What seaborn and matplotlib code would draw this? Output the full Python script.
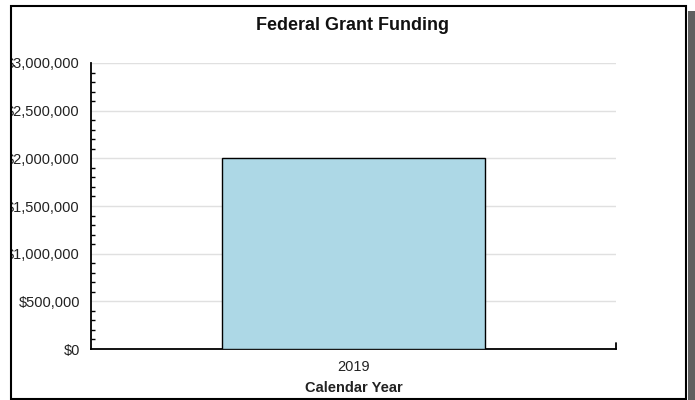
import matplotlib
matplotlib.use("Agg")
import matplotlib.pyplot as plt
import matplotlib.ticker as mticker
from matplotlib.patches import Rectangle
import seaborn as sns
import pandas as pd

years = ["2019"]
funding = [2000000]
y_ticks = [0, 500000, 1000000, 1500000, 2000000, 2500000, 3000000]

sns.set_style("white")
plt.rcParams['font.family'] = ['Liberation Sans', 'DejaVu Sans']

W, H = 695, 400
fig = plt.figure(figsize=(W / 100, H / 100), dpi=100)
ax = fig.add_axes([91 / W, (H - 349) / H, (616 - 91) / W, (349 - 63) / H])

df = pd.DataFrame({"year": years, "funding": funding})
sns.barplot(data=df, x="year", y="funding", ax=ax, width=0.5,
            color="#ADD8E6", saturation=1, edgecolor="black", linewidth=1.0,
            zorder=3)

ax.set_ylim(0, 3000000)
ax.set_xlim(-0.5, 0.5)
ax.set_yticks(y_ticks)
ax.yaxis.set_minor_locator(mticker.MultipleLocator(100000))
ax.yaxis.set_major_formatter(mticker.FuncFormatter(lambda v, p: "${:,.0f}".format(v)))
ax.grid(axis="y", color="#e0e0e0", linewidth=1, zorder=0)
ax.set_axisbelow(True)

for s in ["top", "right"]:
    ax.spines[s].set_visible(False)
for s in ["left", "bottom"]:
    ax.spines[s].set_color("black")
    ax.spines[s].set_linewidth(1.3)

ax.tick_params(axis="y", which="major", direction="in", length=5, width=1,
               color="black", labelsize=10.5, labelcolor="#222222", pad=8)
ax.tick_params(axis="y", which="minor", direction="in", length=3, width=1,
               color="black", left=True)
ax.tick_params(axis="x", length=0, labelsize=10.5, labelcolor="#222222", pad=8)

ax.plot([1, 1], [0, 0.022], transform=ax.transAxes, color="black",
        linewidth=1.3, clip_on=False, zorder=5)

ax.set_ylabel("")
ax.set_xlabel("Calendar Year", fontsize=10.5, fontweight="bold",
              color="#222222", labelpad=5)
fig.text(352 / W, 1 - 25 / H, "Federal Grant Funding", ha="center", va="center",
         fontsize=13, fontweight="bold", color="#111111")

# clip region left of border, frame and shadow
fig.patches.append(Rectangle((0, 0), 11 / W, 1, transform=fig.transFigure,
                             facecolor="white", edgecolor="none", zorder=10))
fig.patches.append(Rectangle((688 / W, 0), 7 / W, (H - 11) / H,
                             transform=fig.transFigure, facecolor="#606060",
                             edgecolor="none", zorder=10))
fig.patches.append(Rectangle((11 / W, 1 / H), (686 - 11) / W, (399 - 6) / H,
                             transform=fig.transFigure, facecolor="none",
                             edgecolor="black", linewidth=1.5, zorder=11))

fig.savefig("out.png", dpi=100)
